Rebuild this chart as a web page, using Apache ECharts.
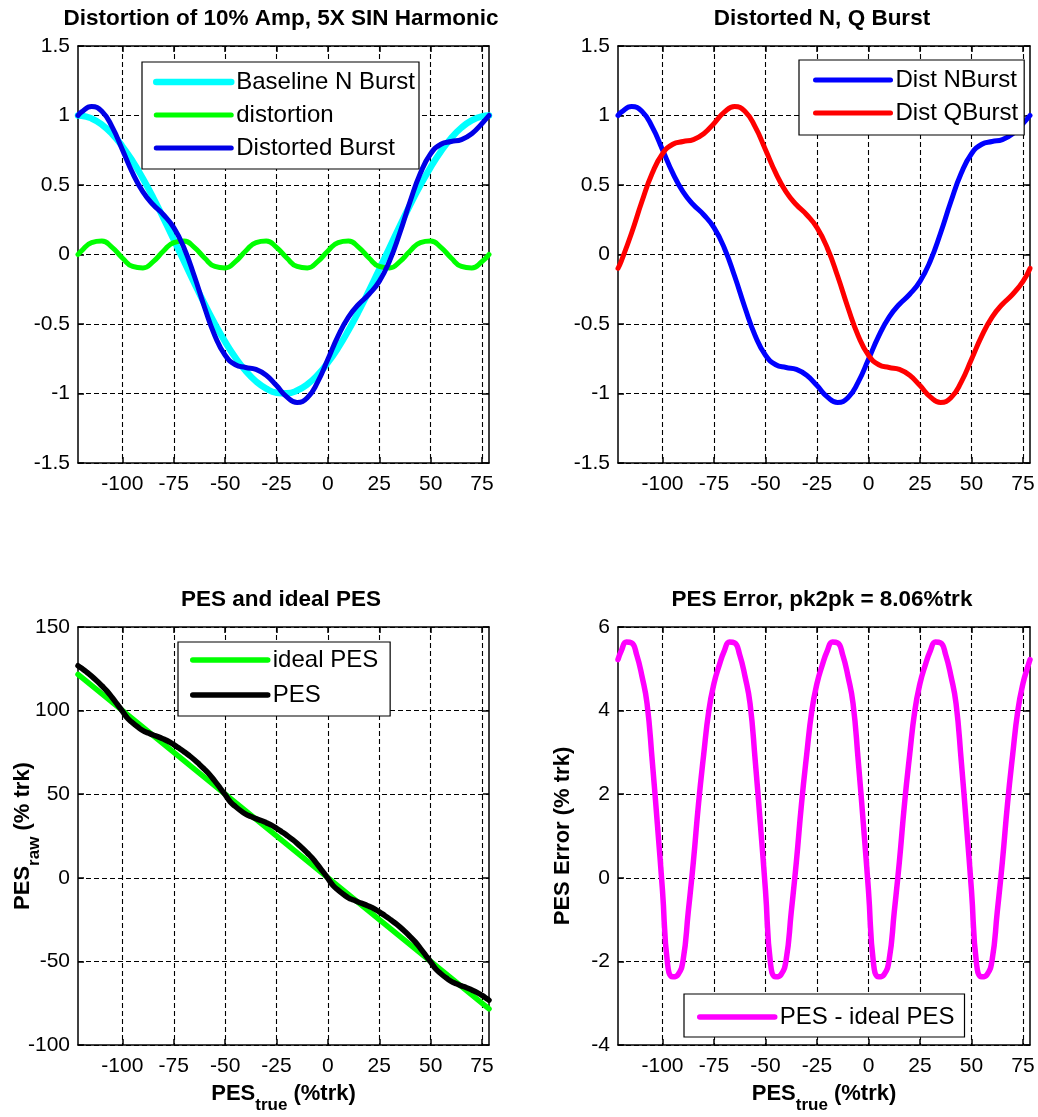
<!DOCTYPE html>
<html>
<head>
<meta charset="utf-8">
<script src="https://cdn.jsdelivr.net/npm/echarts@6/dist/echarts.min.js"></script>
<style>
html, body { margin: 0; padding: 0; background: #ffffff; }
#chart { width: 1038px; height: 1117px; }
</style>
</head>
<body>
<div id="chart"></div>
<script>
// ---- data ----
// sample positions for the burst plots (PES_true, %trk)
const burstPos = [-121.6, -120, -115, -110, -105, -100, -95, -90, -85, -80, -75, -70, -65, -60, -55, -50, -45, -40, -35, -30, -25,
  -20, -15, -10, -5, 0, 5, 10, 15, 20, 25, 30, 35, 40, 45, 50, 55, 60, 65, 70, 75, 78.4];

const baselineN = [1, 0.999, 0.979, 0.934, 0.867, 0.778, 0.671, 0.546, 0.409, 0.261, 0.107, -0.050, -0.206, -0.356, -0.498, -0.628,
  -0.742, -0.838, -0.913, -0.965, -0.994, -0.999, -0.979, -0.934, -0.867, -0.778, -0.671, -0.546, -0.409, -0.261, -0.107,
  0.050, 0.206, 0.356, 0.498, 0.628, 0.742, 0.838, 0.913, 0.965, 0.994, 1];

const distortion = [0, 0.025, 0.086, 0.097, 0.051, -0.025, -0.086, -0.097, -0.051, 0.025, 0.086, 0.097, 0.051, -0.025, -0.086,
  -0.097, -0.051, 0.025, 0.086, 0.097, 0.051, -0.025, -0.086, -0.097, -0.051, 0.025, 0.086, 0.097, 0.051, -0.025, -0.086,
  -0.097, -0.051, 0.025, 0.086, 0.097, 0.051, -0.025, -0.086, -0.097, -0.051, 0];

const distortedN = [1, 1.024, 1.065, 1.031, 0.918, 0.754, 0.585, 0.450, 0.358, 0.286, 0.193, 0.047, -0.155, -0.381, -0.584,
  -0.725, -0.793, -0.813, -0.827, -0.869, -0.943, -1.024, -1.065, -1.031, -0.918, -0.754, -0.585, -0.450, -0.358, -0.286,
  -0.193, -0.047, 0.155, 0.381, 0.584, 0.725, 0.793, 0.813, 0.827, 0.869, 0.943, 1];

const distortedQ = [-0.1, -0.047, 0.155, 0.381, 0.584, 0.725, 0.793, 0.813, 0.827, 0.869, 0.943, 1.024, 1.065, 1.031, 0.918,
  0.754, 0.585, 0.450, 0.358, 0.286, 0.193, 0.047, -0.155, -0.381, -0.584, -0.725, -0.793, -0.813, -0.827, -0.869, -0.943,
  -1.024, -1.065, -1.031, -0.918, -0.754, -0.585, -0.450, -0.358, -0.286, -0.193, -0.1];

// sample positions for the PES plots
const pesPos = [-121.6, -120, -117.5, -115, -112.5, -110, -107.5, -105, -102.5, -100, -97.5, -95, -92.5, -90, -87.5, -85, -82.5,
  -80, -77.5, -75, -72.5, -70, -67.5, -65, -62.5, -60, -57.5, -55, -52.5, -50, -47.5, -45, -42.5, -40, -37.5, -35, -32.5, -30,
  -27.5, -25, -22.5, -20, -17.5, -15, -12.5, -10, -7.5, -5, -2.5, 0, 2.5, 5, 7.5, 10, 12.5, 15, 17.5, 20, 22.5, 25, 27.5, 30,
  32.5, 35, 37.5, 40, 42.5, 45, 47.5, 50, 52.5, 55, 57.5, 60, 62.5, 65, 67.5, 70, 72.5, 75, 77.5, 78.4];

const pesRaw = [126.82,
  125.43, 123.14, 120.62, 117.83, 114.83, 111.67, 107.81, 103.79, 99.69, 95.42, 92.63, 90.18, 88.03, 86.68, 85.39, 84.28, 82.95, 81.50, 79.65, 77.58,
  75.43, 73.14, 70.62, 67.83, 64.83, 61.67, 57.81, 53.79, 49.69, 45.42, 42.63, 40.18, 38.03, 36.68, 35.39, 34.28, 32.95, 31.50, 29.65, 27.58,
  25.43, 23.14, 20.62, 17.83, 14.83, 11.67, 7.81, 3.79, -0.31, -4.58, -7.37, -9.82, -11.97, -13.32, -14.61, -15.72, -17.05, -18.50, -20.35, -22.42,
  -24.57, -26.86, -29.38, -32.17, -35.17, -38.33, -42.19, -46.21, -50.31, -54.58, -57.37, -59.82, -61.97, -63.32, -64.61, -65.72, -67.05, -68.50, -70.35, -72.42,
  -73.18];

const pesError = [5.22,
  5.43, 5.64, 5.62, 5.33, 4.83, 4.17, 2.81, 1.29, -0.31, -2.08, -2.37, -2.32, -1.97, -0.82, 0.39, 1.78, 2.95, 4.00, 4.65, 5.08,
  5.43, 5.64, 5.62, 5.33, 4.83, 4.17, 2.81, 1.29, -0.31, -2.08, -2.37, -2.32, -1.97, -0.82, 0.39, 1.78, 2.95, 4.00, 4.65, 5.08,
  5.43, 5.64, 5.62, 5.33, 4.83, 4.17, 2.81, 1.29, -0.31, -2.08, -2.37, -2.32, -1.97, -0.82, 0.39, 1.78, 2.95, 4.00, 4.65, 5.08,
  5.43, 5.64, 5.62, 5.33, 4.83, 4.17, 2.81, 1.29, -0.31, -2.08, -2.37, -2.32, -1.97, -0.82, 0.39, 1.78, 2.95, 4.00, 4.65, 5.08,
  5.22];

const idealPos = [-121.6, 78.4];
const idealPes = [121.6, -78.4];

const xTicks = [-100, -75, -50, -25, 0, 25, 50, 75];
const xRange = [-121.6, 78.4];

// ---- styling helpers ----
const FONT = 'Liberation Sans, Arial, Helvetica, sans-serif';
const BLACK = '#000000';

const grids = [
  { left: 78, top: 46, width: 411, height: 417 },
  { left: 618, top: 46, width: 412, height: 417 },
  { left: 78, top: 627, width: 411, height: 418 },
  { left: 618, top: 627, width: 412, height: 418 }
];

const yRanges = [
  { min: -1.5, max: 1.5, interval: 0.5 },
  { min: -1.5, max: 1.5, interval: 0.5 },
  { min: -100, max: 150, interval: 50 },
  { min: -4, max: 6, interval: 2 }
];

const axisLine = { show: true, onZero: false, lineStyle: { color: BLACK, width: 1.5 } };
const gridLine = { show: true, lineStyle: { color: BLACK, width: 1.1, type: [5, 3] } };

const subRich = {
  b: { fontFamily: FONT, fontSize: 22, fontWeight: 'bold', color: BLACK, lineHeight: 40 },
  s: { fontFamily: FONT, fontSize: 17, fontWeight: 'bold', color: BLACK, lineHeight: 17, verticalAlign: 'bottom' }
};

const xNames = [null, null, '{b|PES}{s|true}{b| (%trk)}', '{b|PES}{s|true}{b| (%trk)}'];

const xAxes = [];
const yAxes = [];
grids.forEach(function (g, i) {
  const xMain = {
    type: 'value', gridIndex: i, position: 'bottom', min: xRange[0], max: xRange[1],
    axisLine: axisLine,
    axisTick: { show: true, inside: true, length: 6, customValues: xTicks, lineStyle: { color: BLACK, width: 1.5 } },
    axisLabel: { customValues: xTicks, margin: 11, fontSize: 21, color: BLACK, fontFamily: FONT },
    splitLine: gridLine
  };
  if (xNames[i]) {
    xMain.name = xNames[i];
    xMain.nameLocation = 'middle';
    xMain.nameGap = 29;
    xMain.nameMoveOverlap = false;
    xMain.nameTextStyle = { fontFamily: FONT, fontSize: 22, fontWeight: 'bold', color: BLACK, rich: subRich };
  }
  xAxes.push(xMain);
  xAxes.push({
    type: 'value', gridIndex: i, position: 'top', min: xRange[0], max: xRange[1],
    axisLine: axisLine,
    axisTick: { show: true, inside: true, length: 6, customValues: xTicks, lineStyle: { color: BLACK, width: 1.5 } },
    axisLabel: { show: false },
    splitLine: { show: false }
  });

  const r = yRanges[i];
  const yMain = {
    type: 'value', gridIndex: i, position: 'left', min: r.min, max: r.max, interval: r.interval,
    axisLine: axisLine,
    axisTick: { show: true, inside: true, length: 6, lineStyle: { color: BLACK, width: 1.5 } },
    axisLabel: { margin: 8, fontSize: 21, color: BLACK, fontFamily: FONT },
    splitLine: gridLine
  };
  if (i === 2) {
    yMain.name = '{b|PES}{s|raw}{b| (% trk)}';
    yMain.nameLocation = 'middle';
    yMain.nameRotate = 90;
    yMain.nameGap = 35;
    yMain.nameMoveOverlap = false;
    yMain.nameTextStyle = { fontFamily: FONT, fontSize: 22, fontWeight: 'bold', color: BLACK, rich: subRich };
  }
  if (i === 3) {
    yMain.name = 'PES Error (% trk)';
    yMain.nameLocation = 'middle';
    yMain.nameRotate = 90;
    yMain.nameGap = 44;
    yMain.nameMoveOverlap = false;
    yMain.nameTextStyle = { fontFamily: FONT, fontSize: 22, fontWeight: 'bold', color: BLACK, lineHeight: 22 };
  }
  yAxes.push(yMain);
  yAxes.push({
    type: 'value', gridIndex: i, position: 'right', min: r.min, max: r.max, interval: r.interval,
    axisLine: axisLine,
    axisTick: { show: true, inside: true, length: 6, lineStyle: { color: BLACK, width: 1.5 } },
    axisLabel: { show: false },
    splitLine: { show: false }
  });
});

function pairs(xs, ys) {
  return xs.map(function (x, k) { return [x, ys[k]]; });
}

function lineSeries(name, gi, xs, ys, color, width) {
  return {
    name: name, type: 'line', xAxisIndex: gi * 2, yAxisIndex: gi * 2,
    data: pairs(xs, ys), symbol: 'none', smooth: true,
    lineStyle: { color: color, width: width, cap: 'round', join: 'round' },
    itemStyle: { color: color },
    emphasis: { disabled: true }, animation: false
  };
}

const series = [
  lineSeries('Baseline N Burst', 0, burstPos, baselineN, '#00FFFF', 6.5),
  lineSeries('distortion', 0, burstPos, distortion, '#00FF00', 5),
  lineSeries('Distorted Burst', 0, burstPos, distortedN, '#0000E6', 5),
  lineSeries('Dist NBurst', 1, burstPos, distortedN, '#0000FF', 5),
  lineSeries('Dist QBurst', 1, burstPos, distortedQ, '#FF0000', 5),
  lineSeries('ideal PES', 2, idealPos, idealPes, '#00FF00', 5.5),
  lineSeries('PES', 2, pesPos, pesRaw, '#000000', 5.5),
  lineSeries('PES - ideal PES', 3, pesPos, pesError, '#FF00FF', 5.5)
];

// legend boxes: plain line sample (no marker) followed by the label
function legendBox(names, left, top, padding, gap) {
  return {
    orient: 'vertical', left: left, top: top, padding: padding,
    itemWidth: 75, itemHeight: 24, itemGap: gap,
    backgroundColor: '#ffffff', borderColor: BLACK, borderWidth: 1.2, borderRadius: 0,
    data: names, selectedMode: false,
    lineStyle: { width: 'inherit' },
    itemStyle: { opacity: 0 },
    textStyle: { fontFamily: FONT, fontSize: 24, color: BLACK, lineHeight: 24 }
  };
}

function titleAt(text, cx, cy) {
  return {
    text: text, left: cx, top: cy, textAlign: 'center', textVerticalAlign: 'middle', padding: 0,
    textStyle: { fontFamily: FONT, fontSize: 22.5, fontWeight: 'bold', color: BLACK }
  };
}

const chart = echarts.init(document.getElementById('chart'), null, { renderer: 'canvas' });
chart.setOption({
  backgroundColor: '#ffffff',
  animation: false,
  title: [
    titleAt('Distortion of 10% Amp, 5X SIN Harmonic', 281, 19),
    titleAt('Distorted N, Q Burst', 822, 19),
    titleAt('PES and ideal PES', 281, 600),
    titleAt('PES Error, pk2pk = 8.06%trk', 822, 600)
  ],
  legend: [
    legendBox(['Baseline N Burst', 'distortion', 'Distorted Burst'], 142, 62, [8, 4, 9, 11], 9),
    legendBox(['Dist NBurst', 'Dist QBurst'], 799, 60, [8, 6, 10, 14], 9),
    legendBox(['ideal PES', 'PES'], 178, 642, [6, 12, 9, 12], 11),
    legendBox(['PES - ideal PES'], 684, 994, [11, 10, 8, 13], 9)
  ],
  grid: grids.map(function (g) {
    return Object.assign({ show: false, containLabel: false, outerBoundsMode: 'none' }, g);
  }),
  xAxis: xAxes,
  yAxis: yAxes,
  series: series
});
</script>
</body>
</html>
